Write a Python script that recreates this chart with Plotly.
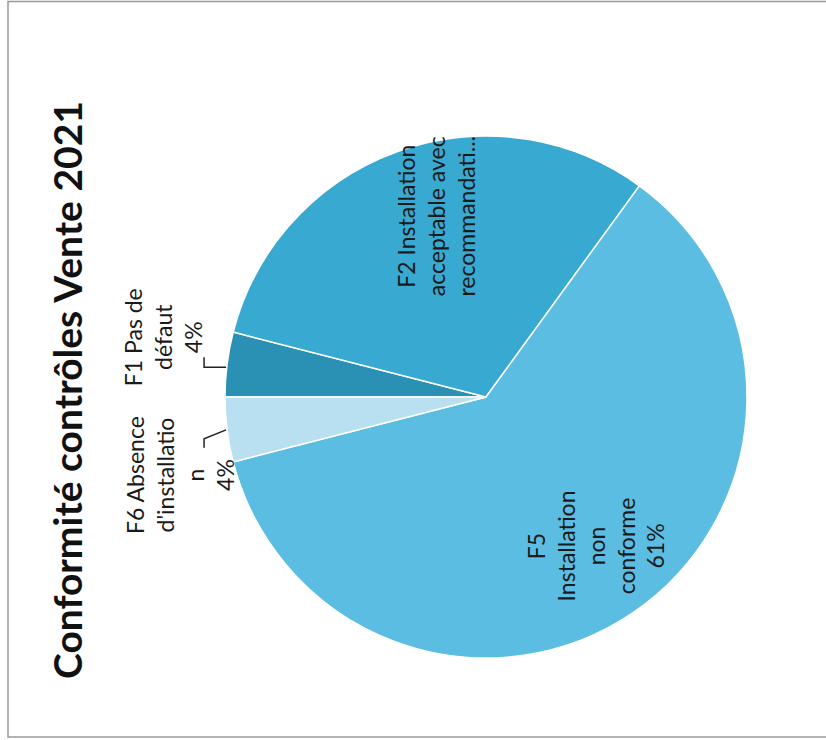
import math
import plotly.graph_objects as go

# ---- data ----
labels = ["F1 Pas de défaut", "F2 Installation acceptable avec recommandations",
          "F5 Installation non conforme", "F6 Absence d'installation"]
values = [4, 31, 61, 4]
display_text = ["F1 Pas de<br>défaut<br>4%",
                "F2 Installation<br>acceptable avec<br>recommandati...",
                "F5<br>Installation<br>non<br>conforme<br>61%",
                "F6 Absence<br>d'installatio<br>n<br>4%"]
colors = ["#2b91b4", "#38a9d1", "#5cbde2", "#b8e0f1"]
title_text = "Conformité contrôles Vente 2021"

W, H = 826, 740
CX, CY, R = 486, 397, 261
ROT = 270  # first slice starts at 9 o'clock, clockwise


def px(x):
    return x / W


def py(y):
    return 1 - y / H


fig = go.Figure(go.Pie(
    labels=labels, values=values, sort=False, direction="clockwise",
    rotation=ROT, marker=dict(colors=colors, line=dict(color="white", width=1.5)),
    textinfo="none", hoverinfo="label+percent", showlegend=False,
    domain=dict(x=[px(CX - R), px(CX + R)], y=[py(CY + R), py(CY - R)]),
))

# slice mid angles (clockwise from 12 o'clock)
total = sum(values)
mids = []
acc = ROT
for v in values:
    span = 360 * v / total
    mids.append(acc + span / 2)
    acc += span


def point(angle, r):
    a = math.radians(angle)
    return CX + r * math.sin(a), CY - r * math.cos(a)


annots = []
font = dict(family="Lato, 'Open Sans', sans-serif", size=23, color="#1a1a1a")
# inside labels
inside = {1: (0.72, 14, -4), 2: (0.71, 6, -4)}
for i, (fr, dx, dy) in inside.items():
    x, y = point(mids[i], R * fr)
    annots.append(dict(x=px(x + dx), y=py(y + dy), xref="paper", yref="paper",
                       xanchor="center", yanchor="middle",
                       text=display_text[i], showarrow=False, textangle=-90,
                       font=font, align="center"))

shapes = []
# outside labels with elbow leader lines
for i, (knee_dy, off_y, lab_dx, lab_dy) in {0: (3, -10, -63, -27), 3: (9, 9, -46, 45)}.items():
    ex, ey = point(mids[i], R + 1)
    kx = ex - 22
    ky = ey + knee_dy
    path = f"M {px(ex)} {py(ey + (3 if i == 0 else 0))} L {px(kx)} {py(ky)} L {px(kx)} {py(ky + off_y)}"
    shapes.append(dict(type="path", xref="paper", yref="paper", path=path,
                       line=dict(color="#222222", width=1.5)))
    annots.append(dict(x=px(ex + lab_dx), y=py(ey + lab_dy), xref="paper", yref="paper",
                       xanchor="center", yanchor="middle",
                       text=display_text[i], showarrow=False, textangle=-90,
                       font=font, align="center"))

# title
annots.append(dict(x=px(67), y=py(390), xref="paper", yref="paper",
                   text="<b>" + title_text + "</b>",
                   xanchor="center", yanchor="middle",
                   showarrow=False, textangle=-90,
                   font=dict(family="Lato, 'Open Sans', sans-serif", size=39, color="#111111")))

# chart frame
shapes.append(dict(type="rect", xref="paper", yref="paper",
                   x0=px(8), x1=px(845), y0=py(737), y1=py(1.5),
                   line=dict(color="#9a9a9a", width=1.5)))

fig.update_layout(width=W, height=H, margin=dict(l=0, r=0, t=0, b=0),
                  paper_bgcolor="white", plot_bgcolor="white",
                  annotations=annots, shapes=shapes)

fig.write_html("out.html", config={"displayModeBar": False},
               post_script="document.body.style.margin='0';document.body.style.overflow='hidden';")
